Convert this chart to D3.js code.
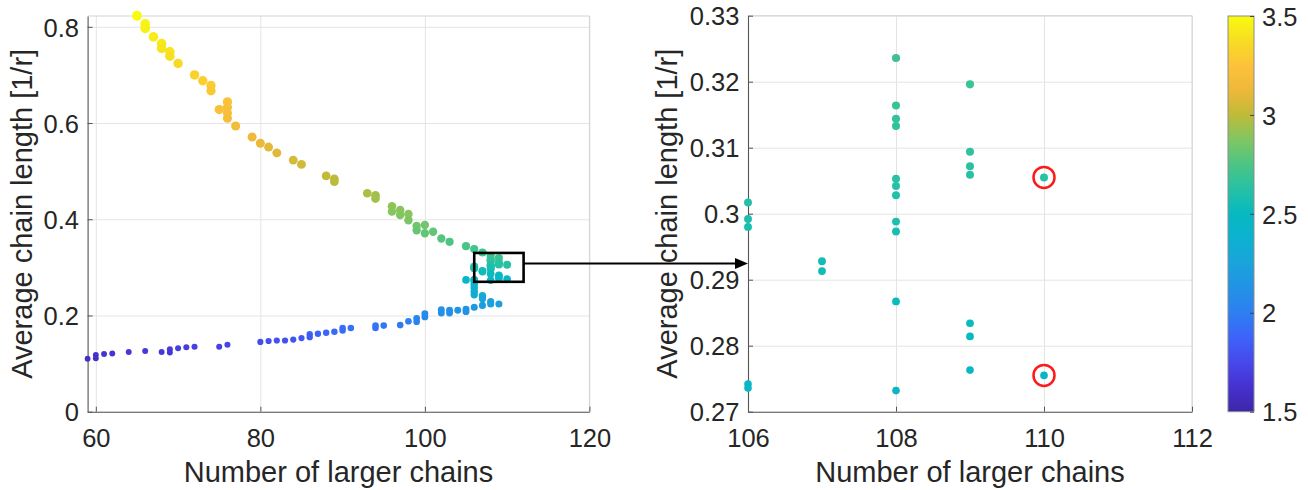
<!DOCTYPE html>
<html><head><meta charset="utf-8">
<script src="https://cdn.jsdelivr.net/npm/d3@7/dist/d3.min.js"></script>
<style>
body{margin:0;background:#fff}
text{font-family:"Liberation Sans",Arial,Helvetica,sans-serif;fill:#262626}
</style>
</head><body>
<svg id="chart" width="1308" height="490"></svg>
<script>
// ---------------- data ----------------
const chains = [
  65, 66,66, 67, 68,68, 69,69, 70, 72, 73, 74,74, 75, 76,76,76,76, 77, 79, 80, 81, 82, 84, 85, 88, 89,89,
  93, 94,94, 96,96, 97,97, 98,98, 99,99, 100,100, 101, 102, 103, 105, 106, 107,
  106,106,106,106,106, 107,107,
  108,108,108,108,108,108,108,108,108,108,108,
  109,109,109,109,109,109,109, 110,110,
  105, 106,106,106,106, 107,107,
  109, 108,108, 107, 106, 105,105, 104, 103,103, 102,102, 100,100, 99,99, 98, 97, 95, 94,94, 91, 90,90,
  89, 88, 87, 86,86, 85, 84, 83, 82, 81, 80, 76, 75, 72, 71, 70, 69,69, 68, 66, 64, 62, 61, 60,60, 59
];
const chainLength = [
  0.823, 0.806,0.797, 0.779, 0.765,0.755, 0.748,0.739, 0.724, 0.700, 0.688, 0.678,0.667, 0.628,
  0.644,0.633,0.621,0.610, 0.594, 0.571, 0.558, 0.550, 0.538, 0.523, 0.514, 0.490, 0.484,0.478,
  0.454, 0.450,0.443, 0.427,0.416, 0.419,0.409, 0.411,0.398, 0.386,0.377, 0.388,0.371, 0.374, 0.360, 0.353, 0.344, 0.338, 0.331,
  0.3017,0.2992,0.2980,0.2742,0.2736, 0.2928,0.2913,
  0.3236,0.3164,0.3144,0.3133,0.3053,0.3042,0.3028,0.2988,0.2973,0.2867,0.2732,
  0.3196,0.3094,0.3072,0.3059,0.2834,0.2814,0.2763, 0.3055,0.2755,
  0.274, 0.266,0.258,0.250,0.243, 0.241,0.235,
  0.224, 0.229,0.224, 0.221, 0.217, 0.213,0.208, 0.211, 0.211,0.205, 0.212,0.205, 0.204,0.197, 0.194,0.187,
  0.188, 0.180, 0.179, 0.179,0.174, 0.174, 0.174,0.169,
  0.166, 0.164, 0.162, 0.161,0.155, 0.153, 0.150, 0.148, 0.148, 0.147, 0.145, 0.139, 0.135, 0.135, 0.134, 0.132,
  0.130,0.123, 0.124, 0.126, 0.124, 0.121, 0.120, 0.118,0.111, 0.110
];
const colorValue = [
  3.50, 3.47,3.46, 3.44, 3.42,3.41, 3.40,3.38, 3.36, 3.33, 3.31, 3.29,3.28, 3.22,
  3.24,3.22,3.21,3.19, 3.17, 3.14, 3.12, 3.10, 3.09, 3.06, 3.05, 3.01, 3.00,2.99,
  2.96, 2.95,2.94, 2.91,2.89, 2.90,2.88, 2.89,2.86, 2.84,2.81, 2.84,2.80, 2.80, 2.77, 2.75, 2.74, 2.72, 2.71,
  2.61,2.59,2.58,2.47,2.46, 2.55,2.54,
  2.70,2.68,2.67,2.66,2.63,2.62,2.61,2.59,2.58,2.52,2.46,
  2.69,2.65,2.64,2.63,2.51,2.50,2.47, 2.63,2.47,
  2.47, 2.43,2.40,2.36,2.32, 2.31,2.28,
  2.21, 2.24,2.21, 2.20, 2.17, 2.15,2.12, 2.14, 2.14,2.10, 2.14,2.10, 2.10,2.06, 2.05,2.01,
  2.02, 1.98, 1.97, 1.97,1.94, 1.94, 1.94,1.91,
  1.90, 1.88, 1.87, 1.87,1.83, 1.82, 1.80, 1.79, 1.79, 1.78, 1.77, 1.73, 1.71, 1.71, 1.70, 1.70,
  1.69,1.65, 1.66, 1.67, 1.66, 1.64, 1.64, 1.63,1.60, 1.60
];
const highlightX = [110, 110];
const highlightY = [0.3055, 0.2755];

const leftXTicks = [60, 80, 100, 120];
const leftXLabels = ["60", "80", "100", "120"];
const leftYTicks = [0, 0.2, 0.4, 0.6, 0.8];
const leftYLabels = ["0", "0.2", "0.4", "0.6", "0.8"];
const rightXTicks = [106, 108, 110, 112];
const rightXLabels = ["106", "108", "110", "112"];
const rightYTicks = [0.27, 0.28, 0.29, 0.30, 0.31, 0.32, 0.33];
const rightYLabels = ["0.27", "0.28", "0.29", "0.3", "0.31", "0.32", "0.33"];
const cbTicks = [1.5, 2, 2.5, 3, 3.5];
const cbLabels = ["1.5", "2", "2.5", "3", "3.5"];
const zoomBoxX = [106, 112];
const zoomBoxY = [0.27, 0.33];

// parula-like colormap
const cmapStops = [0, 0.0625, 0.125, 0.1875, 0.25, 0.3125, 0.375, 0.4375, 0.5, 0.5625, 0.625, 0.6875, 0.75, 0.8125, 0.875, 0.9375, 1];
const cmapColors = ["#3e26a8", "#4531cf", "#4748ec", "#3d63fa", "#2d7ff2", "#2292e6", "#1aa3dc", "#0cb1d0", "#06b9c1",
                    "#26c1a4", "#4cc584", "#80c662", "#bfbb38", "#eeb83a", "#fdc23a", "#f6dd22", "#f9fb0e"];

// ---------------- layout ----------------
const svg = d3.select("#chart");
const TICK_FS = 25.5, LABEL_FS = 29;
const L = {x0: 87.6, x1: 589.4, y0: 16, y1: 411.7};
const R = {x0: 748, x1: 1192, y0: 15.7, y1: 411.7};
const CB = {x0: 1228, x1: 1254, y0: 16, y1: 411.7};

const cDomain = [1.5, 3.5];
const color = d3.scaleLinear()
  .domain(cmapStops.map(t => cDomain[0] + t * (cDomain[1] - cDomain[0])))
  .range(cmapColors).interpolate(d3.interpolateRgb).clamp(true);
const size = d3.scaleLinear().domain(cDomain).range([2.8, 4.9]);

const points = chains.map((x, i) => ({x, y: chainLength[i], c: colorValue[i]}));

function drawPanel(box, xDom, yDom, xTicks, xLabels, yTicks, yLabels, data) {
  const x = d3.scaleLinear().domain(xDom).range([box.x0, box.x1]);
  const y = d3.scaleLinear().domain(yDom).range([box.y1, box.y0]);
  const g = svg.append("g");
  const W = box.x1 - box.x0, H = box.y1 - box.y0;
  g.append("g").attr("transform", `translate(0,${box.y1})`)
    .call(d3.axisBottom(x).tickValues(xTicks).tickSize(-H).tickFormat(""))
    .call(s => { s.select(".domain").remove(); s.selectAll("line").attr("stroke", "#e4e4e4"); });
  g.append("g").attr("transform", `translate(${box.x0},0)`)
    .call(d3.axisLeft(y).tickValues(yTicks).tickSize(-W).tickFormat(""))
    .call(s => { s.select(".domain").remove(); s.selectAll("line").attr("stroke", "#e4e4e4"); });
  g.append("path").attr("d", `M${box.x0},${box.y0}H${box.x1}V${box.y1}`)
    .attr("fill", "none").attr("stroke", "#d4d4d4").attr("stroke-width", 1);
  const ax = g.append("g").attr("transform", `translate(0,${box.y1})`)
    .call(d3.axisBottom(x).tickValues(xTicks).tickSizeInner(-5).tickSizeOuter(0).tickPadding(17)
      .tickFormat((d, i) => xLabels[i]));
  const ay = g.append("g").attr("transform", `translate(${box.x0},0)`)
    .call(d3.axisLeft(y).tickValues(yTicks).tickSizeInner(-5).tickSizeOuter(0).tickPadding(8.6)
      .tickFormat((d, i) => yLabels[i]));
  [ax, ay].forEach(a => {
    a.select(".domain").attr("stroke", "#555").attr("stroke-width", 1.1);
    a.selectAll(".tick line").attr("stroke", "#555");
    a.selectAll("text").attr("font-size", TICK_FS).attr("fill", "#262626")
      .style("font-family", '"Liberation Sans",Arial,sans-serif');
  });
  ay.selectAll("text").attr("dy", "0.36em");
  g.append("g").selectAll("circle").data(data).join("circle")
    .attr("cx", d => x(d.x)).attr("cy", d => y(d.y))
    .attr("r", d => size(d.c)).attr("fill", d => color(d.c));
  return {x, y};
}

const left = drawPanel(L, [59, 120], [0, 0.8225], leftXTicks, leftXLabels, leftYTicks, leftYLabels, points);
const eps = 1e-9;
const rightData = points.filter(p => p.x >= 106 - eps && p.x <= 112 + eps && p.y >= 0.27 - eps && p.y <= 0.33 + eps);
const right = drawPanel(R, [106, 112], [0.27, 0.33], rightXTicks, rightXLabels, rightYTicks, rightYLabels, rightData);

function labels(box, ylx) {
  svg.append("text").attr("x", (box.x0 + box.x1) / 2).attr("y", 482)
    .attr("text-anchor", "middle").attr("font-size", LABEL_FS).text("Number of larger chains");
  svg.append("text").attr("transform", `translate(${ylx},${(box.y0 + box.y1) / 2}) rotate(-90)`)
    .attr("text-anchor", "middle").attr("font-size", LABEL_FS).text("Average chain length [1/r]");
}
labels(L, 32);
labels(R, 677);

svg.append("g").selectAll("circle").data(highlightX).join("circle")
  .attr("cx", d => right.x(d)).attr("cy", (d, i) => right.y(highlightY[i]))
  .attr("r", 10.5).attr("fill", "none").attr("stroke", "#ff1a1a").attr("stroke-width", 2.5);

const rx0 = left.x(zoomBoxX[0]), rx1 = left.x(zoomBoxX[1]);
const ry0 = left.y(zoomBoxY[1]), ry1 = left.y(zoomBoxY[0]);
svg.append("rect").attr("x", rx0).attr("y", ry0).attr("width", rx1 - rx0).attr("height", ry1 - ry0)
  .attr("fill", "none").attr("stroke", "#000").attr("stroke-width", 2.6);

const ay0 = left.y(0.308);
const tipX = right.x(106);
svg.append("line").attr("x1", rx1).attr("y1", ay0).attr("x2", tipX - 10).attr("y2", ay0)
  .attr("stroke", "#000").attr("stroke-width", 2.2);
svg.append("path").attr("d", `M${tipX},${ay0}L${tipX - 13},${ay0 - 5.5}L${tipX - 13},${ay0 + 5.5}Z`).attr("fill", "#000");

const cbY = d3.scaleLinear().domain(cDomain).range([CB.y1, CB.y0]);
const defs = svg.append("defs");
const grad = defs.append("linearGradient").attr("id", "cbgrad")
  .attr("x1", 0).attr("y1", 1).attr("x2", 0).attr("y2", 0);
grad.selectAll("stop").data(cmapStops).join("stop")
  .attr("offset", d => d).attr("stop-color", (d, i) => cmapColors[i]);
svg.append("rect").attr("x", CB.x0).attr("y", CB.y0).attr("width", CB.x1 - CB.x0).attr("height", CB.y1 - CB.y0)
  .attr("fill", "url(#cbgrad)").attr("stroke", "#8c8c8c").attr("stroke-width", 1);
const cbAxis = svg.append("g").attr("transform", `translate(${CB.x1},0)`)
  .call(d3.axisRight(cbY).tickValues(cbTicks).tickSizeInner(-4).tickSizeOuter(0).tickPadding(8)
    .tickFormat((d, i) => cbLabels[i]));
cbAxis.select(".domain").remove();
cbAxis.selectAll(".tick line").attr("stroke", "#444");
cbAxis.selectAll("text").attr("font-size", TICK_FS).attr("fill", "#262626").attr("dy", "0.36em")
  .style("font-family", '"Liberation Sans",Arial,sans-serif');
</script>
</body></html>
